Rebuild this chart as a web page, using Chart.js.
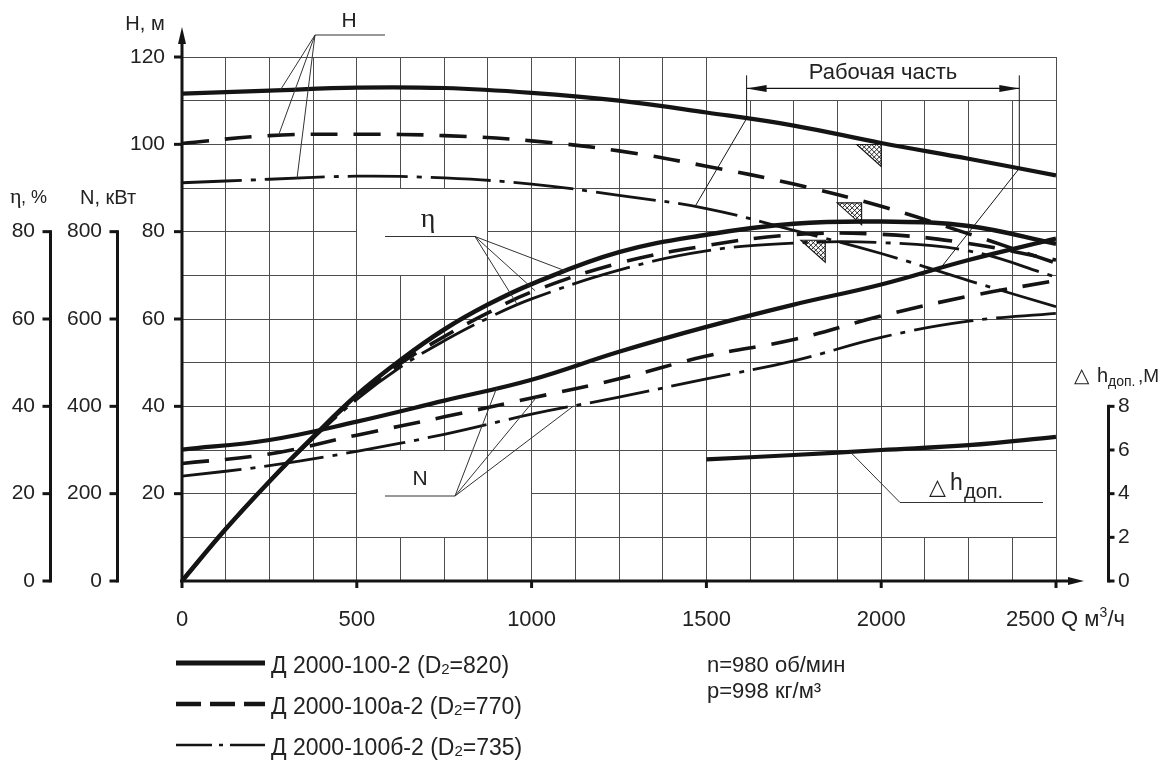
<!DOCTYPE html>
<html>
<head>
<meta charset="utf-8">
<script src="https://cdn.jsdelivr.net/npm/chart.js@4.4.1/dist/chart.umd.min.js"></script>
<style>
  html, body { margin: 0; padding: 0; background: #fff; }
  #wrap { width: 1165px; height: 760px; position: relative; }
</style>
</head>
<body>
<div id="wrap"><canvas id="c" width="1165" height="760"></canvas></div>
<script>
// ---- Characteristic data, Д 2000-100 pump, n = 980 rpm ----
// Head H, m
const Q_H   = [0, 250, 500, 750, 1000, 1250, 1500, 1750, 2000, 2250, 2500];
const H_820 = [111.6, 112.3, 113.0, 112.9, 111.8, 110.0, 107.3, 104.3, 100.3, 96.7, 92.9];
const H_770 = [100.2, 102.0, 102.3, 102.0, 100.8, 98.5, 95.0, 90.9, 85.8, 79.5, 72.8];
const H_735 = [91.2, 92.0, 92.7, 92.3, 90.9, 88.3, 85.3, 80.3, 75.0, 68.8, 62.8];

// Efficiency η, %
const Q_ETA   = [0, 125, 250, 375, 500, 625, 750, 875, 1000, 1250, 1500, 1750, 2000, 2250, 2500];
const ETA_820 = [0, 11.9, 22.8, 33.0, 42.6, 50.6, 57.6, 63.3, 68.0, 75.3, 79.3, 81.8, 82.3, 81.3, 77.2];
const ETA_770 = [0, 11.9, 22.8, 32.9, 42.2, 49.8, 56.0, 61.4, 66.2, 72.8, 76.8, 79.3, 79.4, 77.3, 73.5];
const ETA_735 = [0, 11.9, 22.7, 32.6, 41.6, 49.0, 55.0, 60.2, 64.6, 71.2, 75.6, 77.4, 77.5, 75.6, 69.6];

// Power N, kW
const Q_N   = [0, 250, 500, 750, 1000, 1250, 1500, 1750, 2000, 2250, 2500];
const N_820 = [301, 323, 365, 413, 461, 525, 582, 633, 679, 735, 784];
const N_770 = [269, 291, 334, 376, 419, 463, 515, 553, 607, 652, 688];
const N_735 = [240, 264, 297, 336, 382, 421, 463, 504, 558, 595, 613];

// Required NPSH Δh доп., m
const Q_DH   = [1500, 1750, 2000, 2250, 2500];
const DH_820 = [5.57, 5.77, 6.0, 6.22, 6.6];

// Working range (flow) on the full impeller and on the smallest trim
const WORK_Q_FULL = [1615, 2395];
const WORK_Q_TRIM = [1467, 2163];
// Hatched markers on the head curves (flow at the marker's right edge)
const MARK_Q = [2000, 1944, 1840];

// Tick labels
const X_TICKS   = [0, 500, 1000, 1500, 2000, 2500];
const H_TICKS   = [20, 40, 60, 80, 100, 120];
const ETA_TICKS = [0, 20, 40, 60, 80];
const N_TICKS   = [0, 200, 400, 600, 800];
const DH_TICKS  = [0, 2, 4, 6, 8];

const LEGEND_LABELS = [
  ['Д 2000-100-2 (D', '2', '=820)'],
  ['Д 2000-100а-2 (D', '2', '=770)'],
  ['Д 2000-100б-2 (D', '2', '=735)']
];
const NOTES = ['n=980 об/мин', 'p=998 кг/м³'];

// ---- Styling ----
const INK = '#141414';
const SANS = '"Liberation Sans", Arial, Helvetica, sans-serif';
const SERIF = '"Liberation Serif", "DejaVu Serif", serif';
const LINE_STYLES = [
  { width: 4.2, dash: [] },
  { width: 3.6, dash: [27, 16] },
  { width: 2.8, dash: [60, 9, 5, 9] }
];
const LEGEND_DASH = [[], [25, 9], [36, 7, 4, 7]];

function pts(xs, ys) { return xs.map((x, i) => ({ x: x, y: ys[i] })); }
function interp(xs, ys, q) {
  if (q <= xs[0]) return ys[0];
  for (let i = 1; i < xs.length; i++) {
    if (q <= xs[i]) {
      const t = (q - xs[i - 1]) / (xs[i] - xs[i - 1]);
      return ys[i - 1] + t * (ys[i] - ys[i - 1]);
    }
  }
  return ys[ys.length - 1];
}
function series(label, xs, ys, axis, styleIdx, widthBoost) {
  const st = LINE_STYLES[styleIdx];
  return {
    label: label, data: pts(xs, ys), yAxisID: axis,
    borderColor: INK, borderWidth: st.width + (widthBoost || 0), borderDash: st.dash,
    pointRadius: 0, fill: false, tension: 0.4
  };
}

const datasets = [
  series('H D2=820', Q_H, H_820, 'yH', 0),
  series('H D2=770', Q_H, H_770, 'yH', 1),
  series('H D2=735', Q_H, H_735, 'yH', 2),
  series('η D2=820', Q_ETA, ETA_820, 'yEta', 0, 0.3),
  series('η D2=770', Q_ETA, ETA_770, 'yEta', 1),
  series('η D2=735', Q_ETA, ETA_735, 'yEta', 2),
  series('N D2=820', Q_N, N_820, 'yN', 0),
  series('N D2=770', Q_N, N_770, 'yN', 1),
  series('N D2=735', Q_N, N_735, 'yN', 2),
  series('Δh D2=820', Q_DH, DH_820, 'yDh', 0)
];

// Regions where the grid is left open around captions: [Q0, Q1, H0, H1]
const GRID_GAPS = [
  [1500, 2500, 110, 120],
  [500, 875, 70, 90],
  [500, 875, 10, 30],
  [875, 1000, 19, 21],
  [2000, 2500, 10, 30]
];

function text(ctx, s, x, y, font, align, base) {
  ctx.font = font;
  ctx.textAlign = align || 'left';
  ctx.textBaseline = base || 'middle';
  ctx.fillText(s, x, y);
}
function line(ctx, x0, y0, x1, y1, w) {
  ctx.lineWidth = w;
  ctx.beginPath(); ctx.moveTo(x0, y0); ctx.lineTo(x1, y1); ctx.stroke();
}
function arrowHead(ctx, tx, ty, dx, dy, len, half) {
  // tip at (tx,ty), pointing along (dx,dy)
  const nx = -dy, ny = dx;
  ctx.beginPath();
  ctx.moveTo(tx, ty);
  ctx.lineTo(tx - dx * len + nx * half, ty - dy * len + ny * half);
  ctx.lineTo(tx - dx * len - nx * half, ty - dy * len - ny * half);
  ctx.closePath(); ctx.fill();
}

const decor = {
  id: 'pumpDecor',
  beforeDatasetsDraw(chart) {
    const { ctx } = chart;
    const sx = chart.scales.x, sy = chart.scales.yH;
    ctx.save();
    ctx.fillStyle = '#fff';
    for (const [q0, q1, h0, h1] of GRID_GAPS) {
      const c0 = Math.round(sx.getPixelForValue(q0) - 0.5);
      const c1 = Math.round(sx.getPixelForValue(q1) - 0.5);
      const r1 = Math.round(sy.getPixelForValue(h1) - 0.5);
      const r0 = Math.round(sy.getPixelForValue(h0) - 0.5);
      ctx.fillRect(c0 + 1, r1 + 1, c1 - c0 - 1, r0 - r1 - 1);
    }
    ctx.restore();
  },
  afterDatasetsDraw(chart) {
    const { ctx } = chart;
    const sx = chart.scales.x, sH = chart.scales.yH, sE = chart.scales.yEta,
          sN = chart.scales.yN, sD = chart.scales.yDh;
    const X = q => sx.getPixelForValue(q);
    const headCurves = [H_820, H_770, H_735];
    ctx.save();
    ctx.strokeStyle = INK; ctx.fillStyle = INK;

    // hatched markers under the head curves
    MARK_Q.forEach((q, i) => {
      const xr = X(q), xl = X(q - 70);
      const yt = sH.getPixelForValue(interp(Q_H, headCurves[i], q)) + 1.5;
      const yb = yt + 22;
      ctx.save();
      ctx.beginPath(); ctx.moveTo(xl, yt); ctx.lineTo(xr, yt); ctx.lineTo(xr, yb); ctx.closePath();
      ctx.lineWidth = 1.1; ctx.stroke();
      ctx.clip();
      for (let k = -40; k < 60; k += 5) {
        line(ctx, xl + k, yt, xl + k + 30, yt + 30, 0.9);
        line(ctx, xl + k, yt, xl + k - 30, yt + 30, 0.9);
      }
      ctx.restore();
    });

    // working range: extension lines, dimension arrow, caption
    const yExt = sH.getPixelForValue(115.8), yDim = sH.getPixelForValue(112.8);
    WORK_Q_FULL.forEach((q, i) => {
      const xa = X(q), ya = sH.getPixelForValue(interp(Q_H, H_820, q));
      line(ctx, xa, yExt, xa, ya, 1);
      const qb = WORK_Q_TRIM[i];
      line(ctx, xa, ya, X(qb), sH.getPixelForValue(interp(Q_H, H_735, qb)), 1);
    });
    const xL = X(WORK_Q_FULL[0]), xR = X(WORK_Q_FULL[1]);
    line(ctx, xL, yDim, xR, yDim, 1.2);
    arrowHead(ctx, xL, yDim, -1, 0, 20, 3.5);
    arrowHead(ctx, xR, yDim, 1, 0, 20, 3.5);
    ctx.fillStyle = '#222';
    text(ctx, 'Рабочая часть', (xL + xR) / 2, 73, '22px ' + SANS, 'center');
    ctx.fillStyle = INK;

    // caption leaders
    ctx.strokeStyle = '#333';
    const fan = (x0, y0, x1, y1, ends) => {
      line(ctx, x0, y0, x1, y1, 1);
      ends.forEach(p => line(ctx, x1, y1, p[0], p[1], 1));
    };
    fan(385, 35, 315, 35, [
      [X(281), sH.getPixelForValue(interp(Q_H, H_820, 281))],
      [X(276), sH.getPixelForValue(interp(Q_H, H_770, 276))],
      [X(329), sH.getPixelForValue(interp(Q_H, H_735, 329))]
    ]);
    fan(385, 236.5, 475, 236.5, [
      [X(1100), sE.getPixelForValue(interp(Q_ETA, ETA_820, 1100))],
      [X(1010), sE.getPixelForValue(interp(Q_ETA, ETA_770, 1010))],
      [X(960), sE.getPixelForValue(interp(Q_ETA, ETA_735, 960))]
    ]);
    fan(385, 496, 455, 496, [
      [X(900), sN.getPixelForValue(interp(Q_N, N_820, 900))],
      [X(1015), sN.getPixelForValue(interp(Q_N, N_770, 1015))],
      [X(1120), sN.getPixelForValue(interp(Q_N, N_735, 1120))]
    ]);
    fan(1043, 502.5, 900, 502.5, [
      [X(1911), sD.getPixelForValue(interp(Q_DH, DH_820, 1911))]
    ]);

    ctx.fillStyle = '#222';
    text(ctx, 'H', 349, 21, '21px ' + SANS, 'center');
    text(ctx, 'η', 428, 220, '28px ' + SERIF, 'center');
    text(ctx, 'N', 420, 479, '21px ' + SANS, 'center');
    // Δh доп. caption inside the field
    text(ctx, '△', 929, 488, '22px "DejaVu Sans", ' + SANS, 'left');
    text(ctx, 'h', 950, 484, '23px ' + SANS, 'left');
    text(ctx, 'доп.', 964, 492, '20px ' + SANS, 'left');
    ctx.restore();
  },
  afterDraw(chart) {
    const { ctx } = chart;
    const sx = chart.scales.x, sH = chart.scales.yH, sE = chart.scales.yEta,
          sN = chart.scales.yN, sD = chart.scales.yDh;
    const x0 = sx.getPixelForValue(0), y0 = sH.getPixelForValue(0);
    ctx.save();
    ctx.strokeStyle = INK; ctx.fillStyle = INK; ctx.lineCap = 'butt';

    // Q axis with arrow
    line(ctx, x0 - 2, y0, 1072, y0, 3);
    arrowHead(ctx, 1084, y0, 1, 0, 16, 4);
    X_TICKS.forEach(q => line(ctx, sx.getPixelForValue(q), y0, sx.getPixelForValue(q), y0 + 7, 3));
    ctx.fillStyle = '#222';
    X_TICKS.forEach(q => {
      const xp = sx.getPixelForValue(q);
      if (q === 2500) {
        text(ctx, q + ' Q м', xp - 50, 620, '22px ' + SANS, 'left');
        ctx.font = '22px ' + SANS;
        const w = ctx.measureText(q + ' Q м').width;
        text(ctx, '3', xp - 50 + w, 613, '14px ' + SANS, 'left');
        text(ctx, '/ч', xp - 50 + w + 8, 620, '22px ' + SANS, 'left');
      } else {
        text(ctx, String(q), xp, 620, '22px ' + SANS, 'center');
      }
    });
    ctx.fillStyle = INK;

    // H axis with arrow
    line(ctx, x0, y0 + 1, x0, 42, 3);
    arrowHead(ctx, x0, 27, 0, -1, 17, 4);
    ctx.fillStyle = '#222';
    H_TICKS.forEach(h => {
      const yp = sH.getPixelForValue(h);
      line(ctx, x0 - 8, yp, x0, yp, 3);
      text(ctx, String(h), 165, yp, '21px ' + SANS, 'right');
    });
    text(ctx, 'H, м', 145, 24, '20px ' + SANS, 'center');

    // η axis and N axis on the left
    const xEta = 50.5, xN = 117.5;
    line(ctx, xEta, sE.getPixelForValue(80) - 1.5, xEta, sE.getPixelForValue(0) + 1.5, 3);
    ETA_TICKS.forEach(v => {
      const yp = sE.getPixelForValue(v);
      line(ctx, xEta - 8, yp, xEta, yp, 3);
      text(ctx, String(v), 35, yp, '21px ' + SANS, 'right');
    });
    line(ctx, xN, sN.getPixelForValue(800) - 1.5, xN, sN.getPixelForValue(0) + 1.5, 3);
    N_TICKS.forEach(v => {
      const yp = sN.getPixelForValue(v);
      line(ctx, xN - 8, yp, xN, yp, 3);
      text(ctx, String(v), 102, yp, '21px ' + SANS, 'right');
    });
    text(ctx, 'η', 10, 197, '22px ' + SERIF, 'left');
    text(ctx, ', %', 21, 198, '18px ' + SANS, 'left');
    text(ctx, 'N, кВт', 80, 198, '20px ' + SANS, 'left');

    // Δh axis on the right
    const xD = 1108.5;
    line(ctx, xD, sD.getPixelForValue(8) - 1.5, xD, sD.getPixelForValue(0) + 1.5, 3);
    DH_TICKS.forEach(v => {
      const yp = sD.getPixelForValue(v);
      line(ctx, xD, yp, xD + 6, yp, 3);
      text(ctx, String(v), 1118, yp, '21px ' + SANS, 'left');
    });
    text(ctx, '△', 1074, 377, '20px "DejaVu Sans", ' + SANS, 'left');
    text(ctx, 'h', 1097, 376, '20px ' + SANS, 'left');
    text(ctx, 'доп.', 1108, 382, '14px ' + SANS, 'left');
    text(ctx, ',М', 1138, 377, '19px ' + SANS, 'left');

    // legend built from the head series styles
    LEGEND_LABELS.forEach((parts, i) => {
      const ds = chart.data.datasets[i];
      const yl = 663 + i * 41;
      ctx.save();
      ctx.strokeStyle = ds.borderColor;
      ctx.setLineDash(LEGEND_DASH[i]);
      line(ctx, 176, yl, 265, yl, i === 0 ? 5 : (i === 1 ? 4.5 : 2.6));
      ctx.restore();
      ctx.fillStyle = '#222';
      const ty = yl + 4;
      text(ctx, parts[0], 271, ty, '23px ' + SANS, 'left');
      ctx.font = '23px ' + SANS;
      let xx = 271 + ctx.measureText(parts[0]).width;
      text(ctx, parts[1], xx, ty + 3, '15px ' + SANS, 'left');
      ctx.font = '15px ' + SANS;
      xx += ctx.measureText(parts[1]).width;
      text(ctx, parts[2], xx, ty, '23px ' + SANS, 'left');
    });

    // operating conditions
    ctx.fillStyle = '#222';
    text(ctx, NOTES[0], 707, 666, '22px ' + SANS, 'left');
    text(ctx, NOTES[1], 707, 692, '22px ' + SANS, 'left');
    ctx.restore();
  }
};

const gridOpts = { color: '#4d4d4d', lineWidth: 1, drawTicks: false };
new Chart(document.getElementById('c'), {
  type: 'line',
  data: { datasets: datasets },
  options: {
    responsive: false,
    animation: false,
    devicePixelRatio: 1,
    layout: { padding: { left: 182, right: 109, top: 57, bottom: 179 } },
    plugins: { legend: { display: false }, tooltip: { enabled: false } },
    scales: {
      x: {
        type: 'linear', min: 0, max: 2500,
        ticks: { display: false, stepSize: 125, maxTicksLimit: 100 },
        grid: gridOpts, border: { display: false }
      },
      yH: {
        type: 'linear', position: 'left', min: 0, max: 120,
        ticks: { display: false, stepSize: 10, maxTicksLimit: 100 },
        grid: gridOpts, border: { display: false }
      },
      yEta: { type: 'linear', display: false, min: 0, max: 120 },
      yN:   { type: 'linear', display: false, min: 0, max: 1200 },
      yDh:  { type: 'linear', display: false, min: 0, max: 24 }
    }
  },
  plugins: [decor]
});
</script>
</body>
</html>
